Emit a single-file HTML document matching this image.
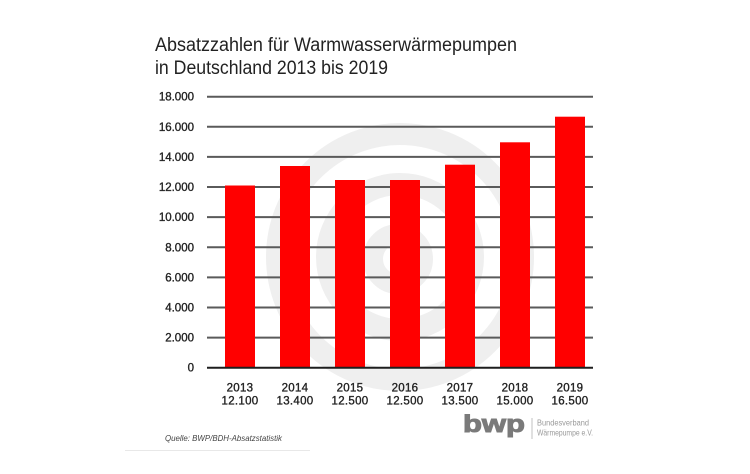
<!DOCTYPE html>
<html>
<head>
<meta charset="utf-8">
<style>
  html, body { margin: 0; padding: 0; background: #ffffff; }
  svg { display: block; }
</style>
</head>
<body>
<svg width="750" height="474" viewBox="0 0 750 474" xmlns="http://www.w3.org/2000/svg">
  <rect x="0" y="0" width="750" height="474" fill="#ffffff"/>

  <!-- watermark rings -->
  <g fill="none" stroke="#efefef">
    <circle cx="400" cy="257" r="123" stroke-width="22"/>
    <circle cx="400" cy="257" r="73" stroke-width="22"/>
    <circle cx="398" cy="259" r="25" stroke-width="20"/>
  </g>

  <!-- title -->
  <g font-family="Liberation Sans, DejaVu Sans, sans-serif" font-size="19" fill="#222">
    <text x="155" y="51" textLength="362" lengthAdjust="spacingAndGlyphs">Absatzzahlen für Warmwasserwärmepumpen</text>
    <text x="155" y="74" textLength="233" lengthAdjust="spacingAndGlyphs">in Deutschland 2013 bis 2019</text>
  </g>

  <!-- gridlines -->
  <g stroke="#5a5a5a" stroke-width="2">
    <line x1="207" y1="96.7" x2="593" y2="96.7"/>
    <line x1="207" y1="126.8" x2="593" y2="126.8"/>
    <line x1="207" y1="156.9" x2="593" y2="156.9"/>
    <line x1="207" y1="187.0" x2="593" y2="187.0"/>
    <line x1="207" y1="217.1" x2="593" y2="217.1"/>
    <line x1="207" y1="247.3" x2="593" y2="247.3"/>
    <line x1="207" y1="277.4" x2="593" y2="277.4"/>
    <line x1="207" y1="307.5" x2="593" y2="307.5"/>
    <line x1="207" y1="337.6" x2="593" y2="337.6"/>
  </g>

  <!-- y labels -->
  <g font-family="Liberation Sans, DejaVu Sans, sans-serif" font-size="11.5" fill="#222" stroke="#222" stroke-width="0.35" text-anchor="end">
    <text x="194" y="100.7">18.000</text>
    <text x="194" y="130.8">16.000</text>
    <text x="194" y="160.9">14.000</text>
    <text x="194" y="191.0">12.000</text>
    <text x="194" y="221.1">10.000</text>
    <text x="194" y="251.3">8.000</text>
    <text x="194" y="281.4">6.000</text>
    <text x="194" y="311.5">4.000</text>
    <text x="194" y="341.6">2.000</text>
    <text x="194" y="371.7">0</text>
  </g>

  <!-- bars -->
  <g fill="#ff0000">
    <rect x="225" y="185.5" width="30" height="182.5"/>
    <rect x="280" y="166" width="30" height="202"/>
    <rect x="335" y="180" width="30" height="188"/>
    <rect x="390" y="180" width="30" height="188"/>
    <rect x="445" y="164.7" width="30" height="203.3"/>
    <rect x="500" y="142.3" width="30" height="225.7"/>
    <rect x="555" y="116.7" width="30" height="251.3"/>
  </g>

  <!-- zero line -->
  <line x1="207" y1="367.7" x2="593" y2="367.7" stroke="#1e1e1e" stroke-width="2"/>

  <!-- x labels -->
  <g font-family="Liberation Sans, DejaVu Sans, sans-serif" font-size="11.5" fill="#222" stroke="#222" stroke-width="0.35" text-anchor="middle" letter-spacing="0.3">
    <text x="240" y="391.5">2013</text>
    <text x="295" y="391.5">2014</text>
    <text x="350" y="391.5">2015</text>
    <text x="405" y="391.5">2016</text>
    <text x="460" y="391.5">2017</text>
    <text x="515" y="391.5">2018</text>
    <text x="570" y="391.5">2019</text>
    <text x="240" y="404.5">12.100</text>
    <text x="295" y="404.5">13.400</text>
    <text x="350" y="404.5">12.500</text>
    <text x="405" y="404.5">12.500</text>
    <text x="460" y="404.5">13.500</text>
    <text x="515" y="404.5">15.000</text>
    <text x="570" y="404.5">16.500</text>
  </g>

  <!-- source -->
  <text x="165" y="441" font-family="Liberation Sans, DejaVu Sans, sans-serif" font-size="8" font-style="italic" fill="#444" textLength="117" lengthAdjust="spacingAndGlyphs">Quelle: BWP/BDH-Absatzstatistik</text>
  <line x1="125" y1="450.5" x2="310" y2="450.5" stroke="#e8e8e8" stroke-width="1"/>

  <!-- logo -->
  <text x="463" y="432" font-family="Liberation Sans, DejaVu Sans, sans-serif" font-size="24" font-weight="bold" fill="#7a7a7a" stroke="#7a7a7a" stroke-width="1" textLength="62" lengthAdjust="spacingAndGlyphs">bwp</text>
  <line x1="532" y1="418" x2="532" y2="439" stroke="#c0c0c0" stroke-width="1"/>
  <g font-family="Liberation Sans, DejaVu Sans, sans-serif" font-size="8" fill="#9a9a9a">
    <text x="537" y="425.7" textLength="52" lengthAdjust="spacingAndGlyphs">Bundesverband</text>
    <text x="537" y="435.7" textLength="56" lengthAdjust="spacingAndGlyphs">Wärmepumpe e.V.</text>
  </g>
</svg>
</body>
</html>
